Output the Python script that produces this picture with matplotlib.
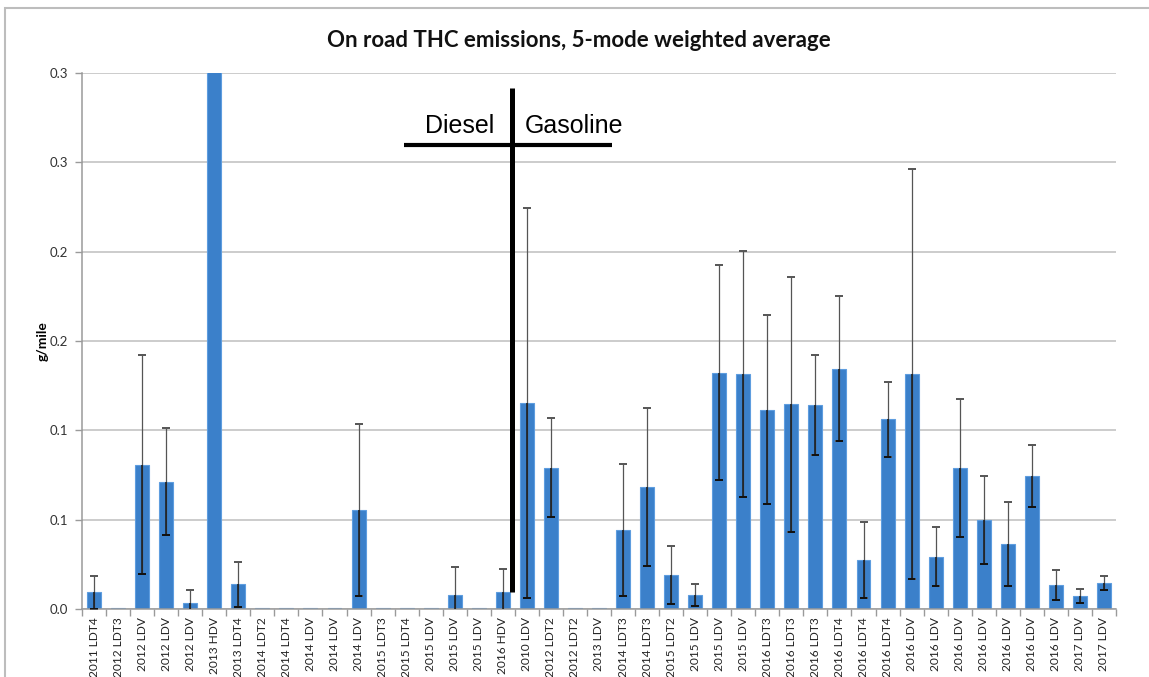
import matplotlib
matplotlib.use("Agg")
import matplotlib.pyplot as plt
from matplotlib.ticker import FixedLocator, FixedFormatter
import numpy as np

# Vehicle categories (model year + class); first 18 diesel, remainder gasoline
categories = [
    "2011 LDT4", "2012 LDT3", "2012 LDV", "2012 LDV", "2012 LDV", "2013 HDV",
    "2013 LDT4", "2014 LDT2", "2014 LDT4", "2014 LDV", "2014 LDV", "2014 LDV",
    "2015 LDT3", "2015 LDT4", "2015 LDV", "2015 LDV", "2015 LDV", "2016 HDV",
    "2010 LDV", "2012 LDT2", "2012 LDT2", "2013 LDV", "2014 LDT3", "2014 LDT3",
    "2015 LDT2", "2015 LDV", "2015 LDV", "2015 LDV", "2016 LDT3", "2016 LDT3",
    "2016 LDT3", "2016 LDT4", "2016 LDT4", "2016 LDT4", "2016 LDV", "2016 LDV",
    "2016 LDV", "2016 LDV", "2016 LDV", "2016 LDV", "2016 LDV", "2017 LDV",
    "2017 LDV",
]

# 5-mode weighted average THC (g/mile)
thc_mean = [
    0.0094, 0.0003, 0.0808, 0.0713, 0.0032, 0.4200,
    0.0138, 0.0003, 0.0003, 0.0003, 0.0003, 0.0553,
    0.0003, 0.0003, 0.0003, 0.0078, 0.0003, 0.0093,
    0.1152, 0.0791, 0.0003, 0.0003, 0.0442, 0.0681,
    0.0190, 0.0078, 0.1323, 0.1316, 0.1116, 0.1146,
    0.1142, 0.1346, 0.0274, 0.1062, 0.1314, 0.0293,
    0.0788, 0.0498, 0.0362, 0.0745, 0.0134, 0.0073,
    0.0147,
]

# Error bar half-widths (g/mile)
thc_err = [
    0.0092, 0.0, 0.0612, 0.0298, 0.0074, 0.0,
    0.0127, 0.0, 0.0, 0.0, 0.0, 0.0483,
    0.0, 0.0, 0.0, 0.0157, 0.0, 0.0133,
    0.1090, 0.0276, 0.0, 0.0, 0.0370, 0.0443,
    0.0163, 0.0060, 0.0603, 0.0690, 0.0528, 0.0714,
    0.0282, 0.0408, 0.0212, 0.0210, 0.1148, 0.0166,
    0.0386, 0.0245, 0.0235, 0.0172, 0.0085, 0.0037,
    0.0040,
]

y_ticks = [0.0, 0.05, 0.10, 0.15, 0.20, 0.25, 0.30]
y_tick_labels = ["0.0", "0.1", "0.1", "0.2", "0.2", "0.3", "0.3"]

plt.rcParams["font.family"] = ["Lato", "DejaVu Sans"]

fig = plt.figure(figsize=(11.49, 6.77), dpi=100)
fig.patch.set_facecolor("white")

# outer chart frame
frame = plt.Rectangle((5 / 1149, -0.05), 1.2, (677 - 8) / 677 + 0.05,
                      transform=fig.transFigure, fill=False,
                      edgecolor="#bdbdbd", linewidth=1.5, zorder=0)
fig.patches.append(frame)

ax = fig.add_axes([82 / 1149, (677 - 609) / 677, (1116 - 82) / 1149, (609 - 73) / 677])

x = np.arange(len(categories))
mean = np.array(thc_mean)
err = np.array(thc_err)

ax.bar(x, mean, width=0.58, color="#3b80ca", edgecolor="#5e9ddf",
       linewidth=0.8, zorder=2)

# whiskers: grey outside the bar, dark where they overlap the bar
has_err = err > 0
ax.errorbar(x[has_err], mean[has_err], yerr=err[has_err], fmt="none",
            ecolor="#555555", elinewidth=0.9, capsize=3.2, capthick=1.4,
            zorder=3)
lo = np.clip(mean - err, 0, None)
ax.vlines(x[has_err], lo[has_err], mean[has_err], colors="#1a1a1a",
          linewidth=1.1, zorder=4)
pos_lo = has_err & (mean - err > 0)
ax.hlines(lo[pos_lo], x[pos_lo] - 0.16, x[pos_lo] + 0.16, colors="#111111",
          linewidth=1.4, zorder=4)

ax.set_xlim(-0.5, len(categories) - 0.5)
ax.set_ylim(0, 0.3)

ax.yaxis.set_major_locator(FixedLocator(y_ticks))
ax.yaxis.set_major_formatter(FixedFormatter(y_tick_labels))
ax.grid(axis="y", color="#c4c4c4", linewidth=1.2, zorder=0)
ax.set_axisbelow(True)

ax.set_xticks(x)
ax.set_xticklabels(categories, rotation=90, fontsize=8.6, color="#222222")
ax.set_xticks(np.arange(-0.5, len(categories), 1.0), minor=True)
ax.tick_params(axis="x", which="major", length=0, pad=6)
ax.tick_params(axis="x", which="minor", length=5, color="#9a9a9a", width=1)
ax.tick_params(axis="y", length=5, color="#9a9a9a", width=1,
               labelsize=9.5, labelcolor="#333333", pad=5)

for side in ("top", "right"):
    ax.spines[side].set_visible(False)
for side in ("left", "bottom"):
    ax.spines[side].set_color("#9a9a9a")
    ax.spines[side].set_linewidth(1.1)

ax.set_ylabel("g/mile", fontsize=10, fontweight="bold", labelpad=1)

fig.text(0.504, 0.94, "On road THC emissions, 5-mode weighted average",
         ha="center", va="center", fontsize=16, fontweight="bold",
         color="#111111")

# diesel / gasoline divider
ax.plot([17.4, 17.4], [0.0095, 0.2917], color="black", linewidth=3.6,
        solid_capstyle="butt", zorder=6, clip_on=False)
ax.plot([12.9, 21.55], [0.2598, 0.2598], color="black", linewidth=3.0,
        solid_capstyle="butt", zorder=6, clip_on=False)
ax.text(15.2, 0.2665, "Diesel", ha="center", va="baseline", fontsize=18,
        family=["Liberation Sans", "DejaVu Sans"], zorder=7)
ax.text(19.96, 0.2665, "Gasoline", ha="center", va="baseline", fontsize=18,
        family=["Liberation Sans", "DejaVu Sans"], zorder=7)

fig.savefig("out.png", dpi=100)
